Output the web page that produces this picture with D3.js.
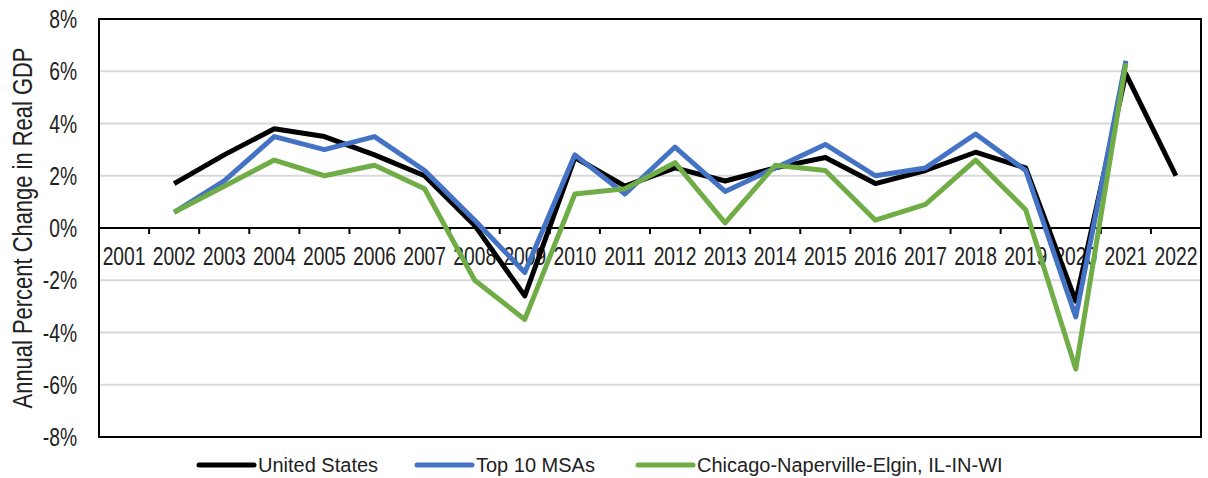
<!DOCTYPE html>
<html>
<head>
<meta charset="utf-8">
<script src="https://cdn.jsdelivr.net/npm/d3@7"></script>
<style>
  html, body { margin: 0; padding: 0; background: #fff; }
  svg text { font-family: "Liberation Sans", Arial, sans-serif; fill: #222; }
</style>
</head>
<body>
<div id="viz"></div>
<script>
const years = d3.range(2001, 2023).map(String);
const yTicks = [-8, -6, -4, -2, 0, 2, 4, 6, 8];

// annual % change in real GDP (null = no value)
const unitedStates = [null, 1.7, 2.8, 3.8, 3.5, 2.8, 2.0, 0.1, -2.6, 2.7, 1.6, 2.3, 1.8, 2.3, 2.7, 1.7, 2.2, 2.9, 2.3, -2.8, 5.9, 2.0];
const top10MSAs = [null, 0.6, 1.8, 3.5, 3.0, 3.5, 2.2, 0.3, -1.7, 2.8, 1.3, 3.1, 1.4, 2.3, 3.2, 2.0, 2.3, 3.6, 2.2, -3.4, 6.4, null];
const chicago = [null, 0.6, 1.6, 2.6, 2.0, 2.4, 1.5, -2.0, -3.5, 1.3, 1.5, 2.5, 0.2, 2.4, 2.2, 0.3, 0.9, 2.6, 0.7, -5.4, 6.3, null];

const seriesNames = ["United States", "Top 10 MSAs", "Chicago-Naperville-Elgin, IL-IN-WI"];
const seriesValues = [unitedStates, top10MSAs, chicago];
const colors = ["#000000", "#4472C4", "#70AD47"];

const width = 1208;
const height = 478;
const margin = { top: 19, right: 7, bottom: 41, left: 99 };
const narrow = 0.77; //no narrow font installed, squeeze text horizontally

const svg = d3.select("#viz")
    .append("svg")
    .attr("width", width)
    .attr("height", height);

const x = d3.scaleBand()
    .domain(years)
    .range([margin.left, width - margin.right]);

const y = d3.scaleLinear()
    .domain([-8, 8])
    .range([height - margin.bottom, margin.top]);

//gridlines
svg.append("g")
    .selectAll("line")
    .data(yTicks.filter(d => d !== 0 && d !== 8 && d !== -8))
    .join("line")
    .attr("x1", margin.left)
    .attr("x2", width - margin.right)
    .attr("y1", d => y(d))
    .attr("y2", d => y(d))
    .attr("stroke", "#d9d9d9")
    .attr("stroke-width", 2);

//y tick labels
svg.append("g")
    .selectAll("text")
    .data(yTicks)
    .join("text")
    .attr("transform", d => `translate(77,${y(d)}) scale(${narrow},1)`)
    .attr("dy", "0.36em")
    .attr("text-anchor", "end")
    .attr("font-size", 25)
    .text(d => d + "%");

//x axis on the zero line, ticks at band edges
const xAxisG = svg.append("g")
    .attr("transform", `translate(0,${y(0)})`);

xAxisG.append("line")
    .attr("x1", margin.left)
    .attr("x2", width - margin.right)
    .attr("stroke", "#000")
    .attr("stroke-width", 2);

xAxisG.selectAll(".tick")
    .data(years.slice(1))
    .join("line")
    .attr("class", "tick")
    .attr("x1", d => x(d))
    .attr("x2", d => x(d))
    .attr("y1", 0)
    .attr("y2", 6)
    .attr("stroke", "#000")
    .attr("stroke-width", 2);

xAxisG.selectAll("text")
    .data(years)
    .join("text")
    .attr("transform", d => `translate(${x(d) + x.bandwidth() / 2},37) scale(${narrow},1)`)
    .attr("text-anchor", "middle")
    .attr("font-size", 25)
    .text(d => d);

//plot border
svg.append("rect")
    .attr("x", margin.left)
    .attr("y", margin.top)
    .attr("width", width - margin.right - margin.left)
    .attr("height", height - margin.bottom - margin.top)
    .attr("fill", "none")
    .attr("stroke", "#000")
    .attr("stroke-width", 2);

const line = d3.line()
    .defined(d => d[1] !== null)
    .x(d => x(d[0]) + x.bandwidth() / 2)
    .y(d => y(d[1]));

svg.append("g")
    .selectAll("path")
    .data(seriesValues)
    .join("path")
    .attr("fill", "none")
    .attr("stroke", (d, i) => colors[i])
    .attr("stroke-width", 5)
    .attr("stroke-linejoin", "round")
    .attr("d", d => line(d.map((v, i) => [years[i], v])));

//y axis title
svg.append("text")
    .attr("transform", `translate(32,228) rotate(-90) scale(${narrow},1)`)
    .attr("text-anchor", "middle")
    .attr("font-size", 28.5)
    .text("Annual Percent Change in Real GDP");

//legend
const legendX = [199, 417, 638];
const legend = svg.append("g")
    .selectAll("g")
    .data(seriesNames)
    .join("g")
    .attr("transform", (d, i) => `translate(${legendX[i]},465)`);

legend.append("line")
    .attr("x1", 0)
    .attr("x2", 55)
    .attr("stroke", (d, i) => colors[i])
    .attr("stroke-width", 5)
    .attr("stroke-linecap", "round");

legend.append("text")
    .attr("x", 59)
    .attr("y", 7)
    .attr("font-size", 20)
    .text(d => d);
</script>
</body>
</html>
